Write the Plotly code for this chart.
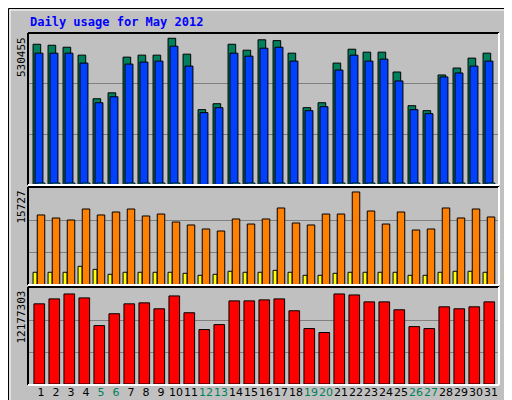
import plotly.graph_objects as go

days = list(range(1, 32))
day_labels = [str(d) for d in days]
weekend = [5, 6, 12, 13, 19, 20, 26, 27]

hits = [508900, 505300, 498200, 469500, 311800, 333300, 462300, 469500, 469500, 530455,
        473100, 272400, 293900, 508900, 487400, 525000, 522000, 476700, 279600, 297500,
        440800, 491000, 480300, 480300, 408600, 286700, 268800, 397800, 422900, 458800, 476700]
files = [476700, 476700, 476700, 440800, 297500, 319000, 437200, 444400, 448000, 501800,
         430100, 261600, 279600, 476700, 465900, 494600, 498200, 448000, 268800, 283100,
         415700, 469500, 448000, 455200, 376300, 272400, 258000, 390700, 405000, 430100, 448000]
pages = [7000, 7000, 7000, 7000, 7000, 2000, 7000, 7000, 7000, 7000,
         2000, 2000, 2000, 7000, 7000, 7000, 7000, 7000, 2000, 2000,
         7000, 7000, 7000, 7000, 7000, 7000, 2000, 7000, 7000, 7000, 7000]
visits = [11840, 11330, 10990, 12850, 11840, 12340, 12850, 11670, 12000, 10650,
          10150, 9470, 9130, 11160, 10310, 11160, 13020, 10480, 10150, 12000,
          12000, 15727, 12510, 10310, 12340, 9300, 9470, 13020, 11330, 12850, 11500]
sites = [2150, 2150, 2150, 3160, 2650, 1810, 2150, 2150, 2150, 2150,
         1980, 1640, 1810, 2320, 2150, 2150, 2480, 2150, 1640, 1640,
         1980, 2150, 2150, 2150, 2150, 1640, 1640, 2150, 2320, 2320, 2150]
kbytes = [10838000, 11507000, 12177303, 11641000, 7894000, 9500000, 10838000, 10972000, 10169000, 11908000,
          9634000, 7359000, 8028000, 11239000, 11239000, 11373000, 11507000, 9901000, 7493000, 6958000,
          12177303, 12042000, 11105000, 11105000, 10035000, 7760000, 7493000, 10436000, 10169000, 10436000, 11105000]

W, H = 512, 400
def yd(top, bot):
    return [1 - bot / H, 1 - top / H]

xr = [1 - 13 / 15, 31 + 8 / 15]
xd = [20 / W, 491 / W]
R1 = 549600
R2 = 16400
R3 = 12980000

fig = go.Figure()
def bar(y, color, off, wid, ax):
    fig.add_trace(go.Bar(x=days, y=y, marker=dict(color=color, line=dict(color="black", width=1)),
                         offset=off, width=wid, xaxis="x" + ax, yaxis="y" + ax,
                         hoverinfo="skip", showlegend=False))

bar(hits, "#00805C", -0.53, 0.51, "")
bar(files, "#0040FF", -0.40, 0.53, "")
bar(pages, "#00E0FF", -0.27, 0.53, "")
bar(sites, "#FFFF00", -0.53, 0.27, "2")
bar(visits, "#FF8000", -0.25, 0.50, "2")
bar(kbytes, "#FF0000", -0.47, 0.71, "3")

grid = dict(showgrid=True, gridcolor="#808080", gridwidth=1, zeroline=False,
            showticklabels=False, ticks="")
xbase = dict(range=xr, domain=xd, showgrid=False, zeroline=False, ticks="")
fig.update_layout(
    width=W, height=H, margin=dict(l=0, r=0, t=0, b=0),
    paper_bgcolor="#C0C0C0", plot_bgcolor="#C0C0C0", barmode="overlay",
    xaxis=dict(**xbase, anchor="y", showticklabels=False),
    xaxis2=dict(**xbase, anchor="y2", showticklabels=False),
    xaxis3=dict(**xbase, anchor="y3", tickvals=days, tickangle=0,
                ticktext=[f'<span style="color:{"#00805C" if d in weekend else "black"}">{d}</span>' for d in days],
                tickfont=dict(family="DejaVu Sans", size=11, color="black")),
    yaxis=dict(**grid, domain=yd(25, 177), range=[0, R1], tickvals=[R1 / 3, 2 * R1 / 3], anchor="x"),
    yaxis2=dict(**grid, domain=yd(180, 277), range=[0, R2], tickvals=[R2 / 3, 2 * R2 / 3], anchor="x2"),
    yaxis3=dict(**grid, domain=yd(280, 376), range=[0, R3], tickvals=[R3 / 3, 2 * R3 / 3], anchor="x3"),
)

def px(x, y):
    return x / W, 1 - y / H

shapes = []
def line(x0, y0, x1, y1, c, w=1):
    a, b = px(x0, y0); cc, d = px(x1, y1)
    shapes.append(dict(type="line", xref="paper", yref="paper", x0=a, y0=b, x1=cc, y1=d,
                       line=dict(color=c, width=w)))
# outer border
line(0.5, 0.5, 511.5, 0.5, "black"); line(0.5, 0.5, 0.5, 399.5, "black")
line(511, 0, 511, 400, "black", 2); line(0, 399, 512, 399, "black", 2)
line(2, 2, 509, 2, "white"); line(2, 2, 2, 397, "white")
line(509, 2, 509, 397, "#808080", 2); line(2, 397, 509, 397, "#808080", 2)
# panels
for top, bot in [(25, 177), (179, 277), (279, 377)]:
    line(20, top, 491, top, "black", 2); line(20, top, 20, bot, "black", 2)
    line(491, top, 491, bot, "white", 2); line(20, bot, 491, bot, "white", 2)
fig.update_layout(shapes=shapes)

mono = "DejaVu Sans Mono"
ann = []
def text(x, y, t, size=11, color="black", angle=0, xa="center", ya="middle"):
    a, b = px(x, y)
    ann.append(dict(x=a, y=b, xref="paper", yref="paper", text=t, showarrow=False,
                    textangle=angle, xanchor=xa, yanchor=ya,
                    font=dict(family=mono, size=size, color=color)))
text(20, 14, "<b>Daily usage for May 2012</b>", 12, "#0000FF", xa="left")
text(13, 27, "530455", 11, angle=-90, ya="top")
text(13, 181, "15727", 11, angle=-90, ya="top")
text(13, 281, "12177303", 11, angle=-90, ya="top")
text(501, 100, '<span style="color:#00E0FF">Pages</span> / <span style="color:#0040FF">Files</span> / <span style="color:#00805C">Hits</span>',
     11, "black", angle=-90)
text(501, 228, '<span style="color:#FF8000">Sites</span> / <span style="color:#FFFF00">Visits</span>',
     11, "black", angle=-90)
text(501, 348, "KBytes", 11, "#FF0000", angle=-90)
fig.update_layout(annotations=ann)

fig.write_html("out.html")
